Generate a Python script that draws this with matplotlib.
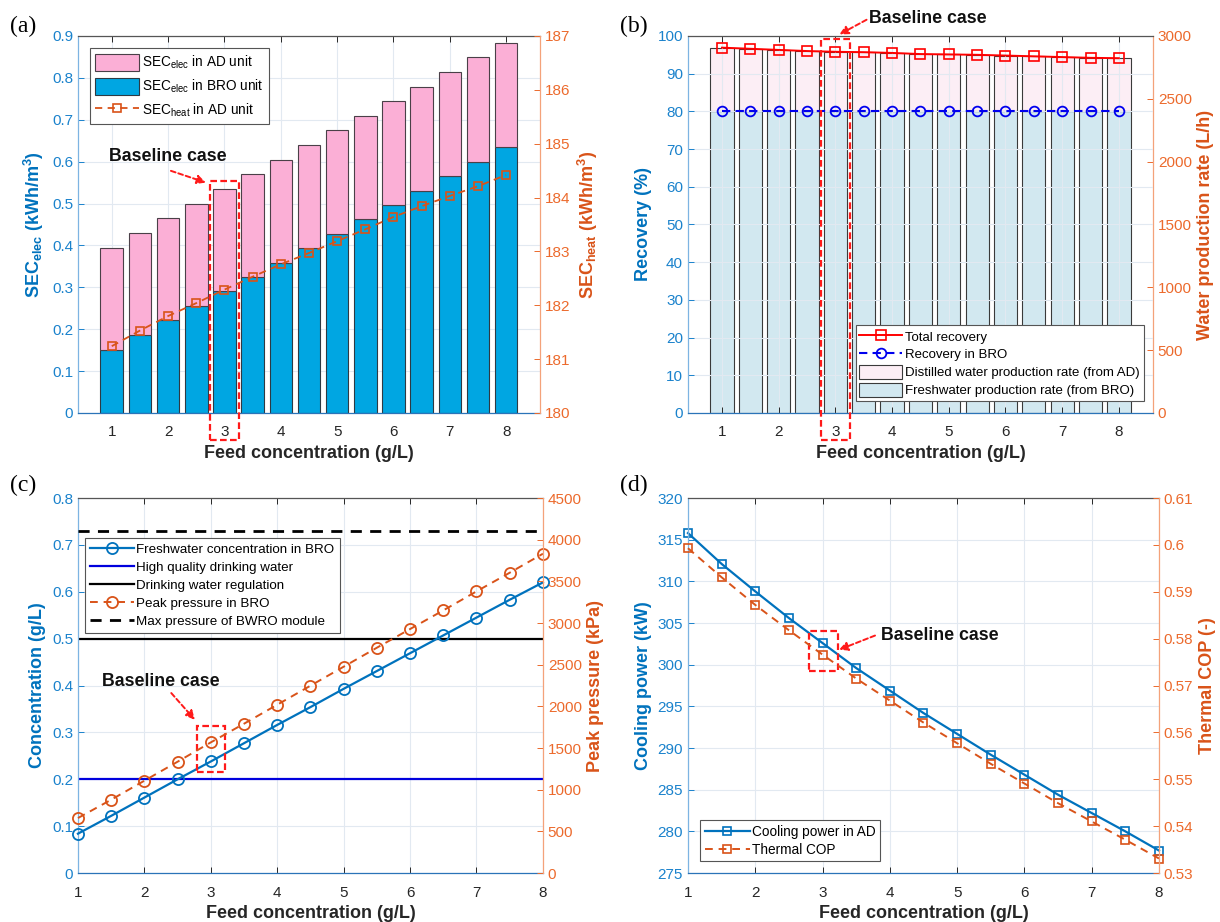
import matplotlib
matplotlib.use("Agg")
import matplotlib.pyplot as plt
from matplotlib.patches import Rectangle

# ---------------- data ----------------
feed = [1.0, 1.5, 2.0, 2.5, 3.0, 3.5, 4.0, 4.5, 5.0, 5.5, 6.0, 6.5, 7.0, 7.5, 8.0]

# (a)
sec_elec_bro = [0.151, 0.187, 0.221, 0.256, 0.290, 0.325, 0.358, 0.393, 0.428, 0.462, 0.496, 0.530, 0.565, 0.599, 0.635]
sec_elec_ad = [0.243, 0.243, 0.245, 0.244, 0.245, 0.245, 0.246, 0.247, 0.247, 0.247, 0.248, 0.249, 0.249, 0.250, 0.249]
sec_heat_ad = [181.24, 181.53, 181.80, 182.04, 182.29, 182.53, 182.76, 182.97, 183.19, 183.41, 183.64, 183.84, 184.03, 184.21, 184.42]

# (b)
total_recovery = [96.9, 96.6, 96.3, 96.0, 95.8, 95.7, 95.5, 95.2, 95.1, 95.0, 94.8, 94.6, 94.4, 94.2, 94.1]
recovery_bro = [80, 80, 80, 80, 80, 80, 80, 80, 80, 80, 80, 80, 80, 80, 80]
fresh_rate_bro = [2400, 2400, 2400, 2400, 2400, 2400, 2400, 2400, 2400, 2400, 2400, 2400, 2400, 2400, 2400]
distilled_rate_ad = [507, 498, 489, 480, 474, 471, 465, 456, 453, 450, 444, 438, 432, 426, 423]

# (c)
fresh_conc_bro = [0.084, 0.122, 0.161, 0.200, 0.238, 0.277, 0.316, 0.354, 0.393, 0.431, 0.469, 0.507, 0.545, 0.583, 0.620]
peak_pressure = [660, 880, 1108, 1336, 1568, 1792, 2020, 2248, 2476, 2704, 2928, 3152, 3380, 3604, 3832]
high_quality_limit = 0.2
regulation_limit = 0.5
max_pressure_bwro = 4110

# (d)
cooling_power = [315.8, 312.1, 308.8, 305.6, 302.6, 299.6, 296.9, 294.2, 291.7, 289.2, 286.8, 284.4, 282.2, 280.0, 277.7]
thermal_cop = [0.5993, 0.5931, 0.5872, 0.5818, 0.5766, 0.5715, 0.5668, 0.5621, 0.5577, 0.5533, 0.5491, 0.5449, 0.5410, 0.5371, 0.5331]

int_ticks = [1, 2, 3, 4, 5, 6, 7, 8]

# ---------------- style ----------------
plt.rcParams['font.family'] = ['Liberation Sans', 'DejaVu Sans']
plt.rcParams['mathtext.fontset'] = 'custom'
plt.rcParams['mathtext.rm'] = 'Liberation Sans'
plt.rcParams['mathtext.it'] = 'Liberation Sans:italic'
plt.rcParams['mathtext.bf'] = 'Liberation Sans:bold'

BLUE = '#0072BD'
BLUE_T = '#1A82CC'
ORANGE = '#D95319'
ORANGE_T = '#EC6A2C'
GRID = '#E2E9F1'
DARK = '#262626'

fig = plt.figure(figsize=(12.2, 9.22), dpi=100)

pos = {
    'a': [0.0639, 0.5521, 0.3787, 0.4089],
    'b': [0.5639, 0.5521, 0.3811, 0.4089],
    'c': [0.0639, 0.0531, 0.3811, 0.4067],
    'd': [0.5639, 0.0531, 0.3861, 0.4067],
}


def make_axes(key):
    ax = fig.add_axes(pos[key])
    ax2 = ax.twinx()
    for a in (ax, ax2):
        a.tick_params(labelsize=11)
    ax.tick_params(axis='y', colors=BLUE_T, direction='in', length=4, width=0.7)
    ax.tick_params(axis='x', colors=DARK, labelcolor=DARK, direction='in', top=True,
                   length=4, width=0.7, pad=9)
    ax2.tick_params(axis='y', colors=ORANGE_T, direction='in', length=4, width=0.7)
    ax.spines['left'].set_color('#7DB4E2')
    ax.spines['bottom'].set_color('#2B74B8')
    ax.spines['top'].set_color('#555555')
    ax.spines['right'].set_visible(False)
    ax2.spines['right'].set_color('#F4A27A')
    for s in ('left', 'top', 'bottom'):
        ax2.spines[s].set_visible(False)
    for a in (ax, ax2):
        for s in a.spines.values():
            s.set_linewidth(0.9)
    ax.grid(True, color=GRID, linewidth=0.8)
    ax.set_xlabel('Feed concentration (g/L)', fontsize=13, fontweight='bold',
                  color=DARK, labelpad=4)
    ax.set_xticks(int_ticks)
    return ax, ax2


def baseline(ax, text_xy, arrow_from, arrow_to, rect):
    ax.text(text_xy[0], text_xy[1], 'Baseline case', fontsize=12.8, fontweight='bold',
            color='#111111', ha='left', va='center', clip_on=False, zorder=20)
    ax.annotate('', xy=arrow_to, xytext=arrow_from,
                arrowprops=dict(arrowstyle='-|>', color='#FF1A1A', lw=1.4,
                                linestyle=(0, (2.5, 1.5)), mutation_scale=13,
                                shrinkA=0, shrinkB=0),
                annotation_clip=False, zorder=20)
    x0, x1, y0, y1 = rect
    ax.add_patch(Rectangle((x0, y0), x1 - x0, y1 - y0, fill=False,
                           edgecolor='#FF1A1A', linewidth=1.6,
                           linestyle=(0, (3, 1.5)), clip_on=False, zorder=20))


def panel_label(x, y, s):
    fig.text(x, y, s, fontsize=17, family=['Liberation Serif', 'DejaVu Serif'],
             ha='left', va='center')


def style_legend(leg):
    leg.get_frame().set_linewidth(0.8)


# ---------------- (a) ----------------
ax, ax2 = make_axes('a')
ax.set_axisbelow(True)
bw = 0.4
b_bro = ax.bar(feed, sec_elec_bro, width=bw, color='#00A6E2', edgecolor='#2E3A44',
               linewidth=0.8, zorder=2)
b_ad = ax.bar(feed, sec_elec_ad, width=bw, bottom=sec_elec_bro, color='#FBAFD6',
              edgecolor='#4A4048', linewidth=0.8, zorder=2)
l_heat, = ax2.plot(feed, sec_heat_ad, color=ORANGE, linestyle=(0, (4, 3)), lw=1.3,
                   marker='s', markersize=5.5, markerfacecolor='none',
                   markeredgewidth=1.2)
ax.set_xlim(0.4, 8.6)
ax.set_ylim(0, 0.9)
ax.set_yticks([0, 0.1, 0.2, 0.3, 0.4, 0.5, 0.6, 0.7, 0.8, 0.9])
ax.set_yticklabels(['0', '0.1', '0.2', '0.3', '0.4', '0.5', '0.6', '0.7', '0.8', '0.9'])
ax2.set_ylim(180, 187)
ax2.set_yticks([180, 181, 182, 183, 184, 185, 186, 187])
ax.set_ylabel(r'SEC$_{\mathbf{elec}}$ (kWh/m$^{\mathbf{3}}$)', fontsize=13,
              fontweight='bold', color=BLUE)
ax2.set_ylabel(r'SEC$_{\mathbf{heat}}$ (kWh/m$^{\mathbf{3}}$)', fontsize=13,
               fontweight='bold', color=ORANGE)
leg = ax2.legend([b_ad, b_bro, l_heat],
                 [r'SEC$_{\mathrm{elec}}$ in AD unit', r'SEC$_{\mathrm{elec}}$ in BRO unit',
                  r'SEC$_{\mathrm{heat}}$ in AD unit'],
                 loc='upper left', bbox_to_anchor=(0.025, 0.967), fontsize=9.8,
                 fancybox=False, framealpha=1, edgecolor='#555555',
                 handlelength=3.2, handleheight=1.6, borderpad=0.4, labelspacing=0.45,
                 handletextpad=0.25, borderaxespad=0)
style_legend(leg)
baseline(ax, (0.95, 0.612), (2.05, 0.578), (2.67, 0.550), (2.75, 3.25, -0.065, 0.553))
panel_label(0.008, 0.971, '(a)')

# ---------------- (b) ----------------
ax, ax2 = make_axes('b')
ax.set_zorder(ax2.get_zorder() + 1)
ax.patch.set_visible(False)
bf = ax2.bar(feed, fresh_rate_bro, width=0.41, color='#D2E8F0', edgecolor='#3A3A3A',
             linewidth=0.8, zorder=1)
bd = ax2.bar(feed, distilled_rate_ad, width=0.41, bottom=fresh_rate_bro, color='#FCEEF5',
             edgecolor='#3A3A3A', linewidth=0.8, zorder=1)
l_tot, = ax.plot(feed, total_recovery, color='#FF0000', lw=1.4, marker='s', markersize=6.5,
                 markerfacecolor='none', markeredgewidth=1.2)
l_bro, = ax.plot(feed, recovery_bro, color='#0000EE', linestyle=(0, (4, 2.5)), lw=1.5,
                 marker='o', markersize=7, markerfacecolor='none', markeredgewidth=1.3)
ax.set_xlim(0.4, 8.6)
ax.set_ylim(0, 100)
ax.set_yticks(range(0, 101, 10))
ax2.set_ylim(0, 3000)
ax2.set_yticks(range(0, 3001, 500))
ax.set_ylabel('Recovery (%)', fontsize=13, fontweight='bold', color=BLUE)
ax2.set_ylabel('Water production rate (L/h)', fontsize=13, fontweight='bold', color=ORANGE)
leg = ax.legend([l_tot, l_bro, bd, bf],
                ['Total recovery', 'Recovery in BRO', 'Distilled water production rate (from AD)',
                 'Freshwater production rate (from BRO)'],
                loc='lower right', bbox_to_anchor=(0.98, 0.031), fontsize=9.5,
                fancybox=False, framealpha=1, edgecolor='#555555',
                handlelength=3.2, handleheight=1.2, borderpad=0.3, labelspacing=0.28,
                handletextpad=0.25, borderaxespad=0)
style_legend(leg)
baseline(ax, (3.60, 104.6), (3.55, 104.3), (3.07, 100.4), (2.75, 3.25, -7.3, 99.3))
panel_label(0.508, 0.971, '(b)')

# ---------------- (c) ----------------
ax, ax2 = make_axes('c')
l_conc, = ax.plot(feed, fresh_conc_bro, color=BLUE, lw=1.6, marker='o', markersize=8,
                  markerfacecolor='none', markeredgewidth=1.3, clip_on=False, zorder=5)
l_hq = ax.axhline(high_quality_limit, color='#0000DD', lw=1.6)
l_reg = ax.axhline(regulation_limit, color='black', lw=1.6)
l_pp, = ax2.plot(feed, peak_pressure, color=ORANGE, linestyle=(0, (4, 3)), lw=1.4,
                 marker='o', markersize=8, markerfacecolor='none', markeredgewidth=1.3,
                 clip_on=False)
l_max = ax2.axhline(max_pressure_bwro, color='black', lw=2, linestyle=(0, (4, 3)))
ax.set_xlim(1, 8)
ax.set_ylim(0, 0.8)
ax.set_yticks([0, 0.1, 0.2, 0.3, 0.4, 0.5, 0.6, 0.7, 0.8])
ax.set_yticklabels(['0', '0.1', '0.2', '0.3', '0.4', '0.5', '0.6', '0.7', '0.8'])
ax2.set_ylim(0, 4500)
ax2.set_yticks(range(0, 4501, 500))
ax.set_ylabel('Concentration (g/L)', fontsize=13, fontweight='bold', color=BLUE)
ax2.set_ylabel('Peak pressure (kPa)', fontsize=13, fontweight='bold', color=ORANGE)
leg = ax2.legend([l_conc, l_hq, l_reg, l_pp, l_max],
                 ['Freshwater concentration in BRO', 'High quality drinking water',
                  'Drinking water regulation', 'Peak pressure in BRO',
                  'Max pressure of BWRO module'],
                 loc='upper left', bbox_to_anchor=(0.015, 0.893), fontsize=9.6,
                 fancybox=False, framealpha=1, edgecolor='#555555',
                 handlelength=3.3, borderpad=0.4, labelspacing=0.42,
                 handletextpad=0.15, borderaxespad=0)
style_legend(leg)
baseline(ax, (1.36, 0.409), (2.405, 0.384), (2.76, 0.327), (2.79, 3.21, 0.2146, 0.314))
panel_label(0.008, 0.474, '(c)')

# ---------------- (d) ----------------
ax, ax2 = make_axes('d')
l_cool, = ax.plot(feed, cooling_power, color=BLUE, lw=1.6, marker='s', markersize=6,
                  markerfacecolor='none', markeredgewidth=1.2, clip_on=False)
l_cop, = ax2.plot(feed, thermal_cop, color=ORANGE, linestyle=(0, (4, 3)), lw=1.4,
                  marker='s', markersize=6, markerfacecolor='none', markeredgewidth=1.2,
                  clip_on=False)
ax.set_xlim(1, 8)
ax.set_ylim(275, 320)
ax.set_yticks(range(275, 321, 5))
ax2.set_ylim(0.53, 0.61)
ax2.set_yticks([0.53, 0.54, 0.55, 0.56, 0.57, 0.58, 0.59, 0.6, 0.61])
ax2.set_yticklabels(['0.53', '0.54', '0.55', '0.56', '0.57', '0.58', '0.59', '0.6', '0.61'])
ax.set_ylabel('Cooling power (kW)', fontsize=13, fontweight='bold', color=BLUE)
ax2.set_ylabel('Thermal COP (-)', fontsize=13, fontweight='bold', color=ORANGE)
leg = ax2.legend([l_cool, l_cop], ['Cooling power in AD', 'Thermal COP'],
                 loc='lower left', bbox_to_anchor=(0.026, 0.031), fontsize=9.8,
                 fancybox=False, framealpha=1, edgecolor='#555555',
                 handlelength=3.3, borderpad=0.35, labelspacing=0.3,
                 handletextpad=0.15, borderaxespad=0)
style_legend(leg)
baseline(ax, (3.87, 303.5), (3.78, 303.5), (3.245, 301.8), (2.80, 3.23, 299.2, 304.0))
panel_label(0.508, 0.474, '(d)')

fig.savefig('out.png', dpi=100)
